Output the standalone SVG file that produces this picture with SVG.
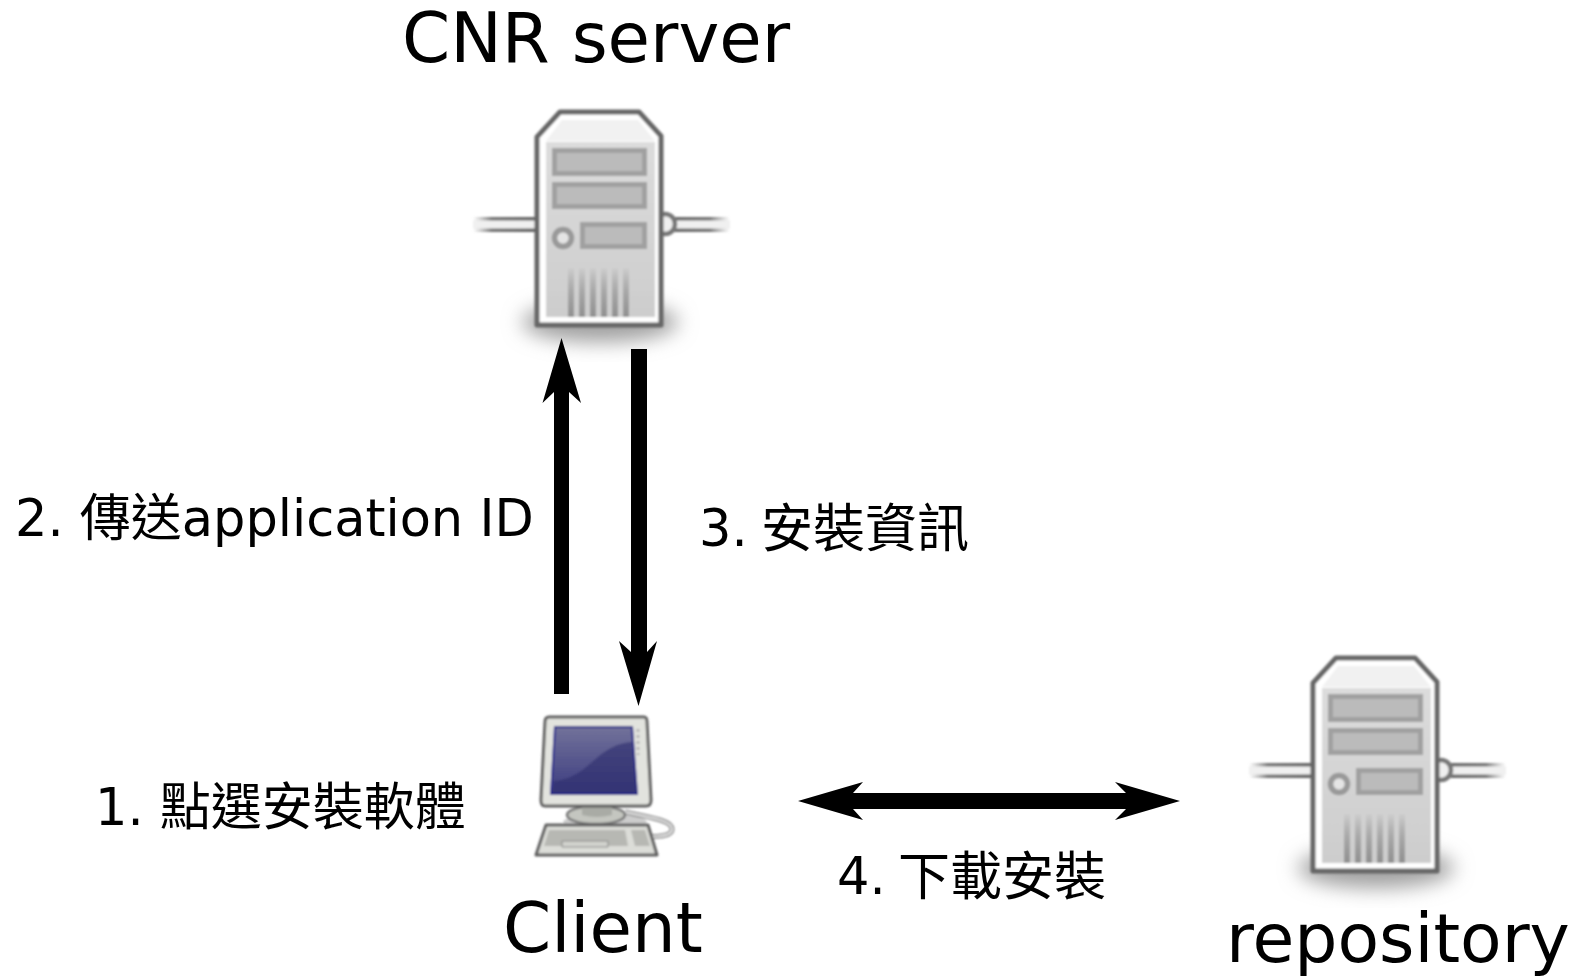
<svg xmlns="http://www.w3.org/2000/svg" width="1582" height="976" viewBox="0 0 1582 976">
<style>
text{font-family:"DejaVu Sans","Noto Sans CJK TC",sans-serif;fill:#000}
.big{font-size:69px}
.lab{font-size:51px}
.cjk{font-size:52px}
.arrow{fill:#000;stroke:none}
.slot{fill:#bbb;stroke:#a0a0a0;stroke-width:5}
.vent{stroke:url(#ventFade);stroke-width:6;fill:none}
</style>
<defs>
<filter id="blur" x="-30%" y="-50%" width="160%" height="200%"><feGaussianBlur stdDeviation="10"/></filter>
<filter id="soft" x="-5%" y="-5%" width="110%" height="110%"><feGaussianBlur stdDeviation="1.100"/></filter>
<linearGradient id="panel" x1="0" y1="0" x2="0" y2="1"><stop offset="0" stop-color="#dcdcdc"/><stop offset="1" stop-color="#cdcdcd"/></linearGradient>
<linearGradient id="ventFade" gradientUnits="userSpaceOnUse" x1="0" y1="266" x2="0" y2="317"><stop offset="0" stop-color="#a0a0a0" stop-opacity="0"/><stop offset="0.5" stop-color="#a8a8a8"/><stop offset="1" stop-color="#909090"/></linearGradient>
<linearGradient id="capL" x1="0" y1="0" x2="1" y2="0"><stop offset="0" stop-color="#888" stop-opacity="0"/><stop offset="0.3" stop-color="#777"/><stop offset="1" stop-color="#666"/></linearGradient>
<linearGradient id="capR" x1="0" y1="0" x2="1" y2="0"><stop offset="0" stop-color="#666"/><stop offset="0.7" stop-color="#777"/><stop offset="1" stop-color="#888" stop-opacity="0"/></linearGradient>
<linearGradient id="screen" x1="0" y1="0" x2="0" y2="1"><stop offset="0" stop-color="#72729a"/><stop offset="1" stop-color="#3c3c80"/></linearGradient>
<g id="server">
<ellipse cx="600" cy="322" rx="78" ry="20" fill="#a0a0a0" filter="url(#blur)"/>
<g filter="url(#soft)">
<rect x="473" y="217" width="62" height="15" fill="url(#capL)"/>
<rect x="663" y="217" width="67" height="15" fill="url(#capR)"/>
<rect x="473" y="220.500" width="62" height="8" fill="#f0f0f0"/>
<rect x="663" y="220.500" width="67" height="8" fill="#f0f0f0"/>
<circle cx="665" cy="224" r="10" fill="#efefef" stroke="#777" stroke-width="4.500"/>
<path d="M537 137L560 112H639L661 136V325H537Z" fill="#fff" stroke="#666" stroke-width="5" stroke-linejoin="round"/>
<path d="M546 141L562 120H638L655 141Z" fill="#f1f1f1"/>
<rect x="546" y="142" width="109" height="175" fill="url(#panel)"/>
<rect x="554.500" y="150.500" width="90" height="23" class="slot"/>
<rect x="554.500" y="184.500" width="90" height="22" class="slot"/>
<rect x="582.500" y="224.500" width="62" height="22" class="slot"/>
<circle cx="563" cy="238" r="8.500" fill="#e4e4e4" stroke="#999" stroke-width="5.500"/>
<path d="M571 268V317M582 268V317M593 268V317M604 268V317M615 268V317M626 268V317" class="vent"/>
</g>
</g>
</defs>
<g id="cnr-server"><use href="#server"/><text class="big" x="402" y="62">CNR server</text></g>
<g id="repository"><use href="#server" transform="translate(776 546)"/><text x="1226" y="962" style="font-size:68px">repository</text></g>
<g id="client">
<g filter="url(#soft)">
<ellipse cx="605" cy="822" rx="42" ry="8" fill="#ccc"/>
<path d="M625 812C650 818 672 820 672 829C672 838 650 837 640 835" fill="none" stroke="#888" stroke-width="5"/>
<path d="M625 812C650 818 672 820 672 829C672 838 650 837 640 835" fill="none" stroke="#ddd" stroke-width="2.500"/>
<ellipse cx="596" cy="815" rx="29" ry="9" fill="#c4c6c0" stroke="#777" stroke-width="2.500"/>
<path d="M582 806H612V815Q597 819 582 815Z" fill="#a9aba5"/>
<path d="M549 717H644Q647 717 647 722L651 800Q651 806 646 806H545Q541 806 541 800L545 722Q545 717 549 717Z" fill="#e2e3de" stroke="#5e5e5e" stroke-width="3"/>
<path d="M555 727H632L637 794H551Z" fill="url(#screen)" stroke="#24248c" stroke-width="2"/>
<path d="M554 781C590 778 595 745 632 742L637 793H552Z" fill="#2d2d6c" opacity="0.6"/>
<path d="M638 729V755" stroke="#b5b5b5" stroke-width="3" stroke-dasharray="3 3"/>
<path d="M546 825H648L657 855H536Z" fill="#dcddd8" stroke="#5e5e5e" stroke-width="3" stroke-linejoin="round"/>
<path d="M549 830H625L628 846H544ZM631 830H645L650 846H635Z" fill="#b7b8b3"/>
<path d="M562 841H608V847H562Z" fill="#d2d3ce" stroke="#888" stroke-width="1"/>
</g>
<text class="big" x="503" y="952">Client</text>
</g>
<g id="connectors">
<path class="arrow" d="M561.500 338L581 403L569 392V694H554V392L542.500 403Z"/>
<path class="arrow" d="M638.500 706L619 641L631 652V349H647V652L657 641Z"/>
<path class="arrow" d="M798 801L863 782L853 793H1126L1115 782L1180 801L1115 820L1126 809H853L863 820Z"/>
</g>
<g id="labels">
<text class="lab" x="15" y="536">2. 傳送application ID</text>
<text class="lab" x="699" y="546">3. <tspan dx="-3" class="cjk" y="547">安裝資訊</tspan></text>
<text class="lab" x="95" y="825">1. 點選安裝軟體</text>
<text class="lab" x="837" y="894">4. <tspan dx="-4" class="cjk" y="895">下載安裝</tspan></text>
</g>
</svg>
